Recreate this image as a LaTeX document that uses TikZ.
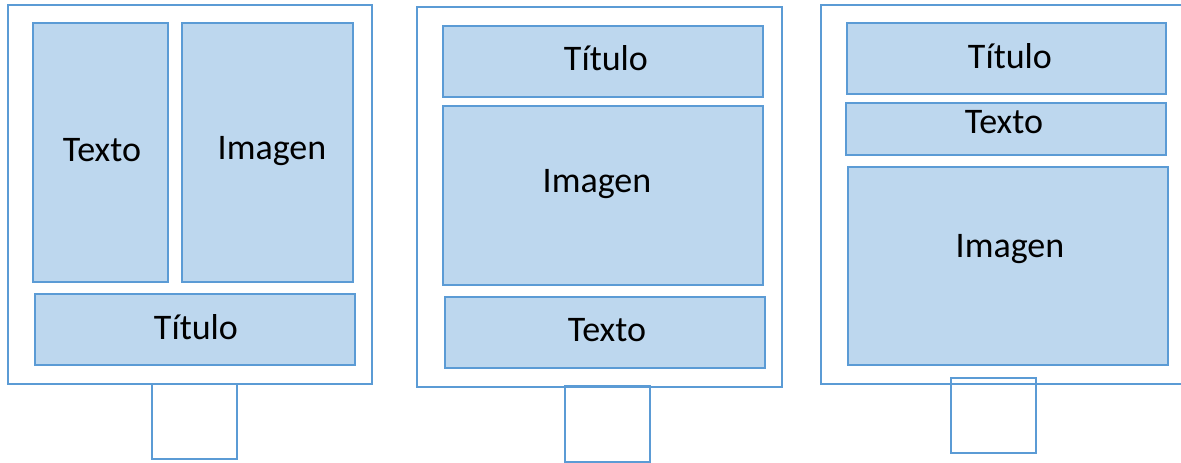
\documentclass[tikz,border=0pt]{standalone}
\usepackage{fontspec}
\setmainfont{Carlito}
\definecolor{edge}{HTML}{5B9BD5}
\definecolor{pane}{HTML}{BDD7EE}
\begin{document}
\begin{tikzpicture}[x=1pt,y=-1pt,
  frame/.style={draw=edge,line width=1.6pt},
  box/.style={draw=edge,fill=pane,line width=1.6pt},
  lbl/.style={anchor=base,font=\fontsize{36}{40}\selectfont,inner sep=0pt}]
\clip (0,0) rectangle (1181,463);
% Panel 1
\draw[frame] (8,5) rectangle (372,384);
\draw[frame] (152,384) rectangle (237,459);
\draw[box] (33,23) rectangle (168,282);
\draw[box] (182,23) rectangle (353,282);
\draw[box] (35,294) rectangle (355,365);
\node[lbl] (a1) at (102,161) {Texto};
\node[lbl] (a2) at (272,159) {Imagen};
\node[lbl] (a3) at (196,339) {Título};
% Panel 2
\draw[frame] (417,7) rectangle (782,387);
\draw[frame] (565,386) rectangle (650,462);
\draw[box] (443,26) rectangle (763,97);
\draw[box] (443,106) rectangle (763,285);
\draw[box] (445,297) rectangle (765,368);
\node[lbl] (b1) at (606,70) {Título};
\node[lbl] (b2) at (597,192) {Imagen};
\node[lbl] (b3) at (607,341) {Texto};
% Panel 3
\draw[frame] (821,5) rectangle (1190,384);
\draw[frame] (951,378) rectangle (1036,453);
\draw[box] (847,23) rectangle (1166,94);
\draw[box] (846,103) rectangle (1166,155);
\draw[box] (848,167) rectangle (1168,365);
\node[lbl] (c1) at (1010,68) {Título};
\node[lbl] (c2) at (1004,133) {Texto};
\node[lbl] (c3) at (1010,257) {Imagen};
\end{tikzpicture}
\end{document}
